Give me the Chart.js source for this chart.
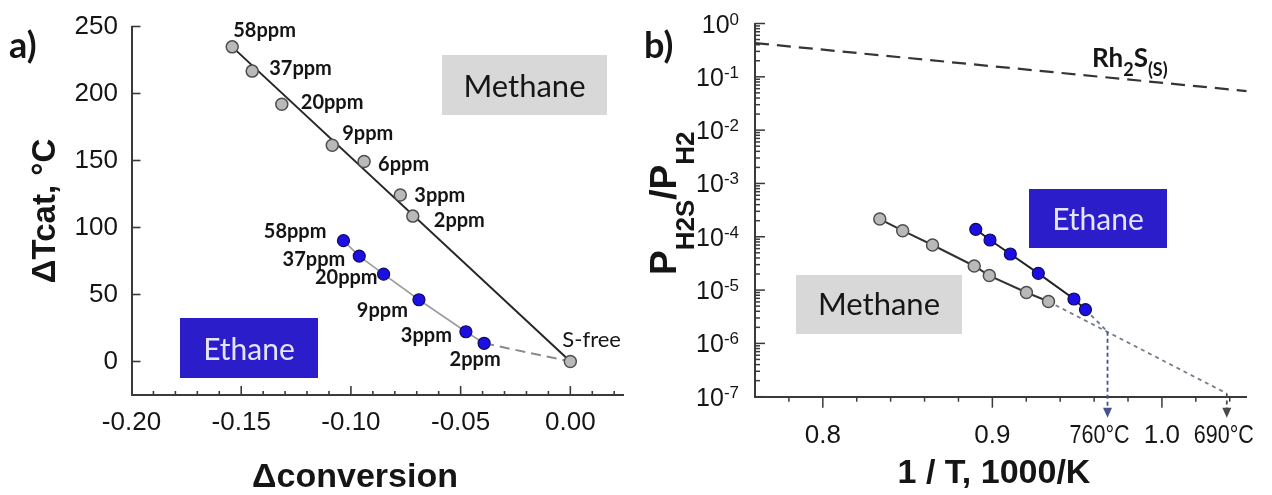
<!DOCTYPE html>
<html>
<head>
<meta charset="utf-8">
<title>Sulfur poisoning of Rh catalyst: ΔTcat vs Δconversion and PH2S/PH2 vs 1/T</title>
<script src="https://cdn.jsdelivr.net/npm/chart.js@4.4.1/dist/chart.umd.min.js"></script>
<style>
  html, body { margin: 0; padding: 0; background: #ffffff; }
  #figure { position: relative; width: 1272px; height: 495px; overflow: hidden; background: #ffffff; }
  #figure canvas { position: absolute; top: 0; }
  #panelA { left: 0; }
  #panelB { left: 640px; }
</style>
</head>
<body>
<div id="figure">
  <canvas id="panelA" width="640" height="495"></canvas>
  <canvas id="panelB" width="632" height="495"></canvas>
</div>
<script>
// ---------- Panel a: catalyst temperature rise vs. loss of conversion ----------
const methaneLabelsA = ['58ppm', '37ppm', '20ppm', '9ppm', '6ppm', '3ppm', '2ppm'];
const methaneConvA   = [-0.1541, -0.1450, -0.1315, -0.1085, -0.0940, -0.0775, -0.0718];
const methaneTcatA   = [234.8, 216.7, 192.0, 161.4, 149.3, 124.3, 108.5];
const ethaneLabelsA  = ['58ppm', '37ppm', '20ppm', '9ppm', '3ppm', '2ppm'];
const ethaneConvA    = [-0.1034, -0.0962, -0.0851, -0.0690, -0.0476, -0.0393];
const ethaneTcatA    = [90.2, 78.7, 65.2, 46.1, 22.2, 13.6];
const sulfurFreeConv = [0.00];
const sulfurFreeTcat = [0];
const methaneFitConv = [-0.1541, 0.00];
const methaneFitTcat = [234.8, 0];
const convTicks = [-0.20, -0.15, -0.10, -0.05, 0.00];
const tcatTicks = [0, 50, 100, 150, 200, 250];

// ---------- Panel b: H2S/H2 ratio vs. inverse temperature ----------
const invTMethane  = [0.8336, 0.8471, 0.8647, 0.8893, 0.8982, 0.9201, 0.9331];
const ratioMethane = [2.15e-4, 1.30e-4, 7.0e-5, 2.83e-5, 1.87e-5, 9.0e-6, 6.1e-6];
const invTEthane   = [0.8902, 0.8986, 0.9106, 0.9271, 0.9481, 0.9549];
const ratioEthane  = [1.38e-4, 8.7e-5, 4.75e-5, 2.06e-5, 6.8e-6, 4.3e-6];
const rh2sInvT     = [0.76, 1.05];
const rh2sRatio    = [0.43, 0.054];
const onsetTempsC  = [760, 690];
const onsetLabels  = ['760°C', '690°C'];
const extrapEthaneRatioEnd  = 1.66e-6;
const extrapMethaneRatioEnd = 1.15e-7;
const invTTicks    = [0.8, 0.9, 1.0];
const ratioDecades = [-7, -6, -5, -4, -3, -2, -1, 0];

// onset temperatures on the 1000/K axis
const onsetInvT = onsetTempsC.map(t => 1000 / (t + 273.15));

// ---------- shared styling ----------
const AXIS_COLOR = '#3a3a3a';
const TEXT_COLOR = '#151515';
const SANS = '"Liberation Sans", Arial, sans-serif';
const NOTE = 'Lato, "Open Sans", sans-serif';
const GRAY_FILL = '#b9b9b9', GRAY_EDGE = '#4e4e4e';
const BLUE_FILL = '#1d0fe3', BLUE_EDGE = '#0d0b62';
const BOX_GRAY = '#d8d8d8', BOX_BLUE = '#2b1dca';

const pts = (xs, ys) => xs.map((x, i) => ({ x, y: ys[i] }));

function tickLine(ctx, x1, y1, x2, y2) {
  ctx.beginPath(); ctx.moveTo(x1, y1); ctx.lineTo(x2, y2); ctx.stroke();
}

// draws a run of text pieces (for sub/superscripts); dy shifts a piece's baseline
function richText(ctx, segs, x, y, align, color) {
  ctx.save();
  ctx.textAlign = 'left';
  ctx.textBaseline = 'alphabetic';
  ctx.fillStyle = color || TEXT_COLOR;
  let total = 0;
  segs.forEach(s => { ctx.font = s.font; s.w = ctx.measureText(s.text).width; total += s.w; });
  let cx = align === 'right' ? x - total : align === 'center' ? x - total / 2 : x;
  segs.forEach(s => { ctx.font = s.font; ctx.fillText(s.text, cx, y + (s.dy || 0)); cx += s.w; });
  ctx.restore();
}

function labelBox(ctx, x, y, w, h, fill, text, font, color, baseline) {
  ctx.save();
  ctx.fillStyle = fill;
  ctx.fillRect(x, y, w, h);
  ctx.font = font;
  ctx.fillStyle = color;
  ctx.textAlign = 'center';
  ctx.textBaseline = 'alphabetic';
  ctx.fillText(text, x + w / 2, baseline);
  ctx.restore();
}

// label placement next to each marker: [dx, dy to text baseline, align]
const methaneLabelPlacement = [[1, -10, 'left'], [17, 4, 'left'], [19, 5, 'left'], [10, -5, 'left'],
                               [14, 10, 'left'], [14, 7, 'left'], [21, 11, 'left']];
const ethaneLabelPlacement  = [[-17, -3, 'right'], [-14, 10, 'right'], [-6, 10, 'right'], [-11, 17, 'right'],
                               [-14, 10, 'right'], [-9, 23, 'center']];

const panelADecor = {
  id: 'panelADecor',
  afterDraw(chart) {
    const { ctx, chartArea: area, scales: { x, y } } = chart;
    ctx.save();
    ctx.strokeStyle = AXIS_COLOR;
    ctx.lineWidth = 1.6;
    // inward ticks: minor every 0.01, major every 0.05
    for (let k = -19; k <= 2; k++) {
      const px = x.getPixelForValue(k / 100);
      const len = k % 5 === 0 ? 9 : 4;
      tickLine(ctx, px, area.bottom, px, area.bottom - len);
    }
    tcatTicks.forEach(v => {
      const py = y.getPixelForValue(v);
      tickLine(ctx, area.left, py, area.left + 9, py);
    });

    // marker labels
    ctx.fillStyle = TEXT_COLOR;
    ctx.font = `bold 20px ${NOTE}`;
    ctx.textBaseline = 'alphabetic';
    methaneLabelsA.forEach((t, i) => {
      const [dx, dy, al] = methaneLabelPlacement[i];
      ctx.textAlign = al;
      ctx.fillText(t, x.getPixelForValue(methaneConvA[i]) + dx, y.getPixelForValue(methaneTcatA[i]) + dy);
    });
    ethaneLabelsA.forEach((t, i) => {
      const [dx, dy, al] = ethaneLabelPlacement[i];
      ctx.textAlign = al;
      ctx.fillText(t, x.getPixelForValue(ethaneConvA[i]) + dx, y.getPixelForValue(ethaneTcatA[i]) + dy);
    });
    ctx.font = `22px ${NOTE}`;
    ctx.textAlign = 'left';
    ctx.fillText('S-free', x.getPixelForValue(sulfurFreeConv[0]) - 8, y.getPixelForValue(sulfurFreeTcat[0]) - 15);

    // feed-gas boxes
    labelBox(ctx, 442, 55, 165, 60, BOX_GRAY, 'Methane', `31px ${NOTE}`, '#161616', 97);
    labelBox(ctx, 180, 318, 138, 60, BOX_BLUE, 'Ethane', `30px ${NOTE}`, '#e4e4ff', 360);

    // panel tag and axis titles
    ctx.fillStyle = TEXT_COLOR;
    ctx.font = `bold 36px ${NOTE}`;
    ctx.textAlign = 'left';
    ctx.fillText('a)', 9, 58);
    ctx.font = `bold 34px ${SANS}`;
    ctx.textAlign = 'center';
    ctx.fillText('Δconversion', 355, 487);
    ctx.translate(55, 211);
    ctx.rotate(-Math.PI / 2);
    ctx.font = `bold 33px ${SANS}`;
    ctx.fillText('ΔTcat, °C', 0, 0);
    ctx.restore();
  }
};

const chartA = new Chart(document.getElementById('panelA'), {
  type: 'scatter',
  data: {
    datasets: [
      { label: 'Methane', data: pts(methaneConvA, methaneTcatA), order: 0,
        pointRadius: 6, pointBackgroundColor: GRAY_FILL, pointBorderColor: GRAY_EDGE, pointBorderWidth: 1.5 },
      { label: 'Ethane', data: pts(ethaneConvA, ethaneTcatA), order: 0,
        pointRadius: 6, pointBackgroundColor: BLUE_FILL, pointBorderColor: BLUE_EDGE, pointBorderWidth: 1.2 },
      { label: 'S-free', data: pts(sulfurFreeConv, sulfurFreeTcat), order: 0,
        pointRadius: 6, pointBackgroundColor: GRAY_FILL, pointBorderColor: GRAY_EDGE, pointBorderWidth: 1.5 },
      { label: 'Methane trend', data: pts(methaneFitConv, methaneFitTcat), order: 1, showLine: true,
        pointRadius: 0, borderColor: '#262626', borderWidth: 2 },
      { label: 'Ethane trend', data: pts(ethaneConvA, ethaneTcatA), order: 1, showLine: true,
        pointRadius: 0, borderColor: '#9c9c9c', borderWidth: 1.6 },
      { label: 'Ethane to S-free',
        data: pts([ethaneConvA[ethaneConvA.length - 1], sulfurFreeConv[0]], [ethaneTcatA[ethaneTcatA.length - 1], sulfurFreeTcat[0]]),
        order: 1, showLine: true, pointRadius: 0, borderColor: '#8a8a8a', borderWidth: 2, borderDash: [10, 6] }
    ]
  },
  options: {
    responsive: false, animation: false, devicePixelRatio: 1,
    layout: { padding: { left: 0, right: 17, top: 24, bottom: 0 } },
    plugins: { legend: { display: false }, tooltip: { enabled: false } },
    scales: {
      x: {
        type: 'linear', min: -0.2, max: 0.024,
        afterBuildTicks: s => { s.ticks = convTicks.map(v => ({ value: v })); },
        afterFit: s => { s.height = 100; },
        grid: { display: false, drawTicks: false },
        border: { display: true, color: AXIS_COLOR, width: 2 },
        ticks: { padding: 15, color: TEXT_COLOR, font: { family: SANS, size: 26, lineHeight: 1 },
                 callback: v => v.toFixed(2), maxRotation: 0, autoSkip: false }
      },
      y: {
        type: 'linear', min: -25, max: 250,
        afterBuildTicks: s => { s.ticks = tcatTicks.map(v => ({ value: v })); },
        afterFit: s => { s.width = 131.5; },
        grid: { display: false, drawTicks: false },
        border: { display: true, color: AXIS_COLOR, width: 2 },
        ticks: { padding: 13.5, color: TEXT_COLOR, font: { family: SANS, size: 26, lineHeight: 1 },
                 callback: v => String(v), autoSkip: false }
      }
    }
  },
  plugins: [panelADecor]
});

// ---------- Panel b ----------
const panelBDecor = {
  id: 'panelBDecor',
  afterDraw(chart) {
    const { ctx, chartArea: area, scales: { x, y } } = chart;
    ctx.save();
    ctx.strokeStyle = AXIS_COLOR;
    ctx.lineWidth = 1.5;
    // outward x ticks: minor every 0.02, major every 0.1
    for (let k = 39; k <= 52; k++) {
      const px = x.getPixelForValue(k * 0.02);
      const len = k % 5 === 0 ? 11 : 5;
      tickLine(ctx, px, area.bottom, px, area.bottom + len);
    }
    // inward logarithmic y ticks
    ratioDecades.forEach(d => {
      const base = Math.pow(10, d);
      tickLine(ctx, area.left, y.getPixelForValue(base), area.left + 10, y.getPixelForValue(base));
      if (d < 0) {
        for (let m = 2; m <= 9; m++) {
          const py = y.getPixelForValue(m * base);
          tickLine(ctx, area.left, py, area.left + 5, py);
        }
      }
    });
    // decade labels 10^n
    ratioDecades.forEach(d => {
      const py = y.getPixelForValue(Math.pow(10, d));
      richText(ctx, [
        { text: '10', font: `25px ${SANS}` },
        { text: String(d), font: `17px ${SANS}`, dy: -8 }
      ], area.left - 16, py + 9, 'right');
    });

    // extrapolated onset arrows down to the temperature axis
    const arrows = [
      { v: onsetInvT[0], top: extrapEthaneRatioEnd, color: '#45528f' },
      { v: onsetInvT[1], top: extrapMethaneRatioEnd, color: '#4a4a4a' }
    ];
    arrows.forEach(a => {
      const px = x.getPixelForValue(a.v);
      const pyTop = y.getPixelForValue(a.top);
      ctx.save();
      ctx.strokeStyle = a.color;
      ctx.lineWidth = 1.8;
      ctx.setLineDash([4, 3]);
      tickLine(ctx, px, pyTop, px, area.bottom + 12);
      ctx.setLineDash([]);
      ctx.fillStyle = a.color;
      ctx.beginPath();
      ctx.moveTo(px - 4.5, area.bottom + 11);
      ctx.lineTo(px + 4.5, area.bottom + 11);
      ctx.lineTo(px, area.bottom + 21);
      ctx.closePath();
      ctx.fill();
      ctx.restore();
    });
    // onset temperature labels (condensed)
    const onsetShift = [-8, -3];
    onsetLabels.forEach((t, i) => {
      ctx.save();
      ctx.translate(x.getPixelForValue(onsetInvT[i]) + onsetShift[i], 443);
      ctx.scale(0.86, 1.05);
      ctx.font = `25px ${SANS}`;
      ctx.fillStyle = TEXT_COLOR;
      ctx.textAlign = 'center';
      ctx.textBaseline = 'alphabetic';
      ctx.fillText(t, 0, 0);
      ctx.restore();
    });

    // equilibrium line label
    richText(ctx, [
      { text: 'Rh', font: `bold 26px ${NOTE}` },
      { text: '2', font: `bold 18px ${NOTE}`, dy: 9 },
      { text: 'S', font: `bold 26px ${NOTE}` },
      { text: '(S)', font: `bold 18px ${NOTE}`, dy: 9 }
    ], 452, 67, 'left');

    // feed-gas boxes
    labelBox(ctx, 156, 275, 166, 59, BOX_GRAY, 'Methane', `31px ${NOTE}`, '#161616', 315);
    labelBox(ctx, 389, 189, 138, 59, BOX_BLUE, 'Ethane', `30px ${NOTE}`, '#e4e4ff', 230);

    // panel tag and axis titles
    ctx.fillStyle = TEXT_COLOR;
    ctx.font = `bold 36px ${NOTE}`;
    ctx.textAlign = 'left';
    ctx.textBaseline = 'alphabetic';
    ctx.fillText('b)', 4, 58);
    ctx.font = `bold 34px ${SANS}`;
    ctx.textAlign = 'center';
    ctx.fillText('1 / T, 1000/K', 354, 483);
    ctx.translate(36, 275);
    ctx.rotate(-Math.PI / 2);
    richText(ctx, [
      { text: 'P', font: `bold 37px ${SANS}` },
      { text: 'H2S', font: `bold 26px ${SANS}`, dy: 18 },
      { text: '/', font: `bold 37px ${SANS}` },
      { text: 'P', font: `bold 37px ${SANS}` },
      { text: 'H2', font: `bold 26px ${SANS}`, dy: 18 }
    ], 0, 0, 'left');
    ctx.restore();
  }
};

const chartB = new Chart(document.getElementById('panelB'), {
  type: 'scatter',
  data: {
    datasets: [
      { label: 'Methane', data: pts(invTMethane, ratioMethane), order: 0, showLine: true,
        borderColor: '#333333', borderWidth: 2,
        pointRadius: 6, pointBackgroundColor: GRAY_FILL, pointBorderColor: GRAY_EDGE, pointBorderWidth: 1.5 },
      { label: 'Ethane', data: pts(invTEthane, ratioEthane), order: 0, showLine: true,
        borderColor: '#222222', borderWidth: 2,
        pointRadius: 6, pointBackgroundColor: BLUE_FILL, pointBorderColor: BLUE_EDGE, pointBorderWidth: 1.2 },
      { label: 'Rh2S(s)', data: pts(rh2sInvT, rh2sRatio), order: 1, showLine: true,
        pointRadius: 0, borderColor: '#353535', borderWidth: 2.2, borderDash: [14, 8] },
      { label: 'Methane extrapolation',
        data: pts([invTMethane[invTMethane.length - 1], onsetInvT[1]], [ratioMethane[ratioMethane.length - 1], extrapMethaneRatioEnd]),
        order: 1, showLine: true, pointRadius: 0, borderColor: '#757b8c', borderWidth: 1.8, borderDash: [4, 4] },
      { label: 'Ethane extrapolation',
        data: pts([invTEthane[invTEthane.length - 1], onsetInvT[0]], [ratioEthane[ratioEthane.length - 1], extrapEthaneRatioEnd]),
        order: 1, showLine: true, pointRadius: 0, borderColor: '#6a73a0', borderWidth: 1.8, borderDash: [4, 4] }
    ]
  },
  options: {
    responsive: false, animation: false, devicePixelRatio: 1,
    layout: { padding: { left: 0, right: 25.3, top: 23.5, bottom: 0 } },
    plugins: { legend: { display: false }, tooltip: { enabled: false } },
    scales: {
      x: {
        type: 'linear', min: 0.76, max: 1.05,
        afterBuildTicks: s => { s.ticks = invTTicks.map(v => ({ value: v })); },
        afterFit: s => { s.height = 98.3; },
        grid: { display: false, drawTicks: false },
        border: { display: true, color: AXIS_COLOR, width: 2 },
        ticks: { padding: 26, color: TEXT_COLOR, font: { family: SANS, size: 26, lineHeight: 1 },
                 callback: v => v.toFixed(1), maxRotation: 0, autoSkip: false }
      },
      y: {
        type: 'logarithmic', min: 1e-7, max: 1,
        afterBuildTicks: s => { s.ticks = ratioDecades.map(d => ({ value: Math.pow(10, d) })); },
        afterFit: s => { s.width = 115; },
        grid: { display: false, drawTicks: false },
        border: { display: true, color: AXIS_COLOR, width: 2 },
        ticks: { display: false }
      }
    }
  },
  plugins: [panelBDecor]
});
</script>
</body>
</html>
